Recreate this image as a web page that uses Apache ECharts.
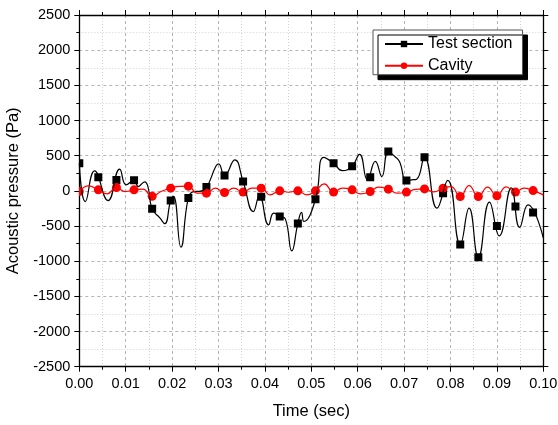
<!DOCTYPE html>
<html>
<head>
<meta charset="utf-8">
<script src="https://cdn.jsdelivr.net/npm/echarts@6/dist/echarts.min.js"></script>
<style>
  html, body { margin: 0; padding: 0; background: #fff; }
  #chart { width: 558px; height: 425px; }
</style>
</head>
<body>
<div id="chart"></div>
<script>
// Test section pressure trace (time in s, pressure in Pa)
const testLineT = [0, 0.0013, 0.0033, 0.0062, 0.0087, 0.0101, 0.0118, 0.0127, 0.0141, 0.0148,
  0.0157, 0.0174, 0.0184, 0.0197, 0.0203, 0.0219, 0.0235, 0.0247, 0.0258, 0.0274,
  0.0294, 0.0300, 0.0313, 0.0335, 0.0353, 0.0375, 0.0388, 0.0408, 0.0419, 0.0432,
  0.0444, 0.0458, 0.0471, 0.0479, 0.0484, 0.0509, 0.0527, 0.0548, 0.0567, 0.0588,
  0.0604, 0.0621, 0.0638, 0.0652, 0.0666, 0.0680, 0.0690, 0.0705, 0.0716, 0.0727,
  0.0744, 0.0771, 0.0794, 0.0821, 0.0840, 0.0860, 0.0884, 0.0905, 0.0931, 0.0949,
  0.0967, 0.1000];
const testLineP = [394, -152, 284, -138, 310, 85, 152, 61, 128, 57,
  -256, -388, -466, -138, -78, -800, -100, -10, -7, 53,
  345, 384, 218, 441, 132, -294, -70, -483, -317, -363,
  -398, -853, -465, -306, -436, -121, 476, 394, 287, 351,
  519, 156, 419, 203, 559, 488, 417, 146, 156, 166,
  476, -246, 149, -761, -246, -945, -159, -640, 43, -519,
  -199, -670];

// Marker samples (shared time base for both channels)
const markerT = [0, 0.0041, 0.0080, 0.0118, 0.0157, 0.0197, 0.0235, 0.0274, 0.0313, 0.0353,
  0.0392, 0.0432, 0.0471, 0.0509, 0.0548, 0.0588, 0.0627, 0.0666, 0.0705, 0.0744,
  0.0784, 0.0821, 0.0860, 0.0900, 0.0940, 0.0978];
const testMarkerP = [394, 192, 156, 152, -256, -138, -100, 53, 218, 132,
  -85, -363, -465, -121, 394, 351, 192, 559, 146, 476,
  -33, -761, -945, -498, -223, -308];
const cavityMarkerP = [-10, 14, 47, 14, -78, 38, 67, -33, -24, -18,
  38, 0, 0, 0, -18, 14, -10, 24, -18, 28,
  38, -81, -81, -71, -18, 4];

// Cavity pressure trace
const cavityLineT = [0, 0.0020, 0.0041, 0.0060, 0.0080, 0.0099, 0.0118, 0.0137, 0.0157, 0.0176,
  0.0197, 0.0215, 0.0235, 0.0254, 0.0274, 0.0293, 0.0313, 0.0333, 0.0353, 0.0372,
  0.0392, 0.0411, 0.0432, 0.0451, 0.0471, 0.0490, 0.0509, 0.0528, 0.0548, 0.0567,
  0.0588, 0.0606, 0.0627, 0.0645, 0.0666, 0.0685, 0.0705, 0.0724, 0.0744, 0.0764,
  0.0784, 0.0801, 0.0821, 0.0840, 0.0860, 0.0880, 0.0900, 0.0920, 0.0940, 0.0958,
  0.0978, 0.1000];
const cavityLineP = [-10, 70, 14, -43, 47, -10, 14, 24, -78, -10,
  38, 64, 67, -33, -33, 38, -24, 38, -18, 38,
  38, -57, 0, -20, 0, -57, 0, 99, -18, 38,
  14, -43, -10, 52, 24, -33, -18, 20, 28, -15,
  38, 61, -81, 75, -81, 53, -71, 57, -18, 38,
  4, -57];

const FONT = '"Liberation Sans", Arial, sans-serif';
const pairs = (xs, ys) => xs.map((x, i) => [x, ys[i]]);

const gridMajor = { show: true, lineStyle: { color: '#b4b4b4', width: 1, type: [3, 3] } };
const gridMinor = { show: true, lineStyle: { color: '#d2d2d2', width: 1, type: [1, 2] } };
const axisLine = { show: true, onZero: false, lineStyle: { color: '#000', width: 1.3 } };
const tick = { show: true, length: 5, lineStyle: { color: '#000', width: 1 } };
const minorTick = { show: true, splitNumber: 2, length: 3, lineStyle: { color: '#000', width: 1 } };

const xBase = { type: 'value', min: 0, max: 0.1, interval: 0.01, axisLine, axisTick: tick, minorTick };
const yBase = { type: 'value', min: -2500, max: 2500, interval: 500, axisLine, axisTick: tick, minorTick };

// Square / disc markers, clipped to the plot frame
function squareMarker(size, color) {
  return (params, api) => {
    const p = api.coord([api.value(0), api.value(1)]);
    return { type: 'rect', shape: { x: p[0] - size / 2, y: p[1] - size / 2, width: size, height: size },
      style: { fill: color } };
  };
}
function discMarker(size, color) {
  return (params, api) => {
    const p = api.coord([api.value(0), api.value(1)]);
    return { type: 'circle', shape: { cx: p[0], cy: p[1], r: size / 2 }, style: { fill: color } };
  };
}

const chart = echarts.init(document.getElementById('chart'), null, { renderer: 'canvas' });
chart.setOption({
  animation: false,
  backgroundColor: '#fff',
  textStyle: { fontFamily: FONT },
  grid: { left: 79.3, right: 14.7, top: 15, bottom: 58.3, containLabel: false, outerBoundsMode: 'none' },
  legend: {
    orient: 'vertical',
    left: 373, top: 30,
    padding: [6, 10, 1, 11],
    itemGap: 5.7,
    itemWidth: 38, itemHeight: 8,
    backgroundColor: '#fff',
    borderColor: '#555', borderWidth: 1,
    shadowColor: '#000', shadowBlur: 0, shadowOffsetX: 5, shadowOffsetY: 5,
    textStyle: { fontFamily: FONT, fontSize: 16, color: '#000', lineHeight: 16 },
    data: ['Test section', 'Cavity']
  },
  xAxis: [
    Object.assign({}, xBase, {
      position: 'bottom',
      name: 'Time (sec)', nameLocation: 'middle', nameGap: 36,
      nameTextStyle: { fontFamily: FONT, fontSize: 16.5, color: '#000' },
      axisLabel: { show: true, margin: 10, fontFamily: FONT, fontSize: 14.5, color: '#000',
        formatter: v => v.toFixed(2) },
      splitLine: gridMajor, minorSplitLine: gridMinor
    }),
    Object.assign({}, xBase, {
      position: 'top', axisLabel: { show: false }, splitLine: { show: false }
    })
  ],
  yAxis: [
    Object.assign({}, yBase, {
      position: 'left',
      name: 'Acoustic pressure (Pa)', nameLocation: 'middle', nameGap: 52,
      nameTextStyle: { fontFamily: FONT, fontSize: 16.5, color: '#000' },
      axisLabel: { show: true, margin: 9, fontFamily: FONT, fontSize: 14.5, color: '#000',
        formatter: v => String(v) },
      splitLine: gridMajor, minorSplitLine: gridMinor
    }),
    Object.assign({}, yBase, {
      position: 'right', axisLabel: { show: false }, splitLine: { show: false }
    })
  ],
  series: [
    {
      name: 'Test section', type: 'line', smooth: 0.5,
      symbol: 'rect', showSymbol: false,
      data: pairs(testLineT, testLineP),
      itemStyle: { color: '#000' },
      lineStyle: { color: '#000', width: 1.2 }
    },
    {
      name: 'Test section', type: 'custom', clip: true,
      renderItem: squareMarker(8, '#000'),
      encode: { x: 0, y: 1 },
      data: pairs(markerT, testMarkerP),
      itemStyle: { color: '#000' }
    },
    {
      name: 'Cavity', type: 'line', smooth: 0.5,
      symbol: 'circle', showSymbol: false,
      data: pairs(cavityLineT, cavityLineP),
      itemStyle: { color: '#ff0000' },
      lineStyle: { color: '#ff0000', width: 1.2 }
    },
    {
      name: 'Cavity', type: 'custom', clip: true,
      renderItem: discMarker(9, '#ff0000'),
      encode: { x: 0, y: 1 },
      data: pairs(markerT, cavityMarkerP),
      itemStyle: { color: '#ff0000' }
    }
  ]
});
</script>
</body>
</html>
